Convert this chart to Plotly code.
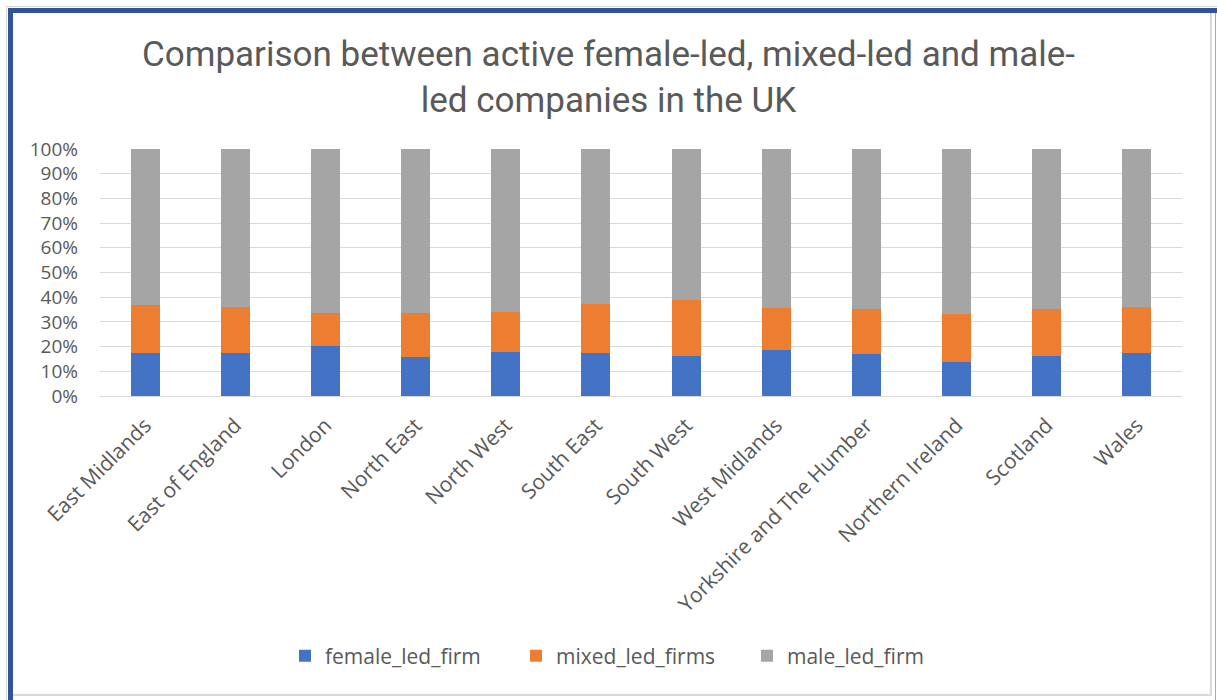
import plotly.graph_objects as go

# Regions and the share of active companies by leadership type (%)
regions = [
    "East Midlands", "East of England", "London", "North East", "North West",
    "South East", "South West", "West Midlands", "Yorkshire and The Humber",
    "Northern Ireland", "Scotland", "Wales",
]
female_led_firm = [17.3, 17.3, 20.2, 15.9, 17.8, 17.5, 16.3, 18.5, 17.0, 13.8, 16.2, 17.3]
mixed_led_firms = [19.7, 18.9, 13.3, 17.8, 16.1, 19.9, 22.7, 17.0, 18.3, 19.3, 18.9, 18.6]
male_led_firm = [63.0, 63.8, 66.5, 66.3, 66.1, 62.6, 61.0, 64.5, 64.7, 66.9, 64.9, 64.1]

y_ticks = list(range(0, 101, 10))
y_tick_labels = [f"{v}%" for v in y_ticks]

W, H = 1217, 700
L, R, T, B = 100, 35, 149, 304
TEXT = "#595959"
FONT = "Open Sans"
FS = 21

fig = go.Figure()
for name, vals, col in [
    ("female_led_firm", female_led_firm, "#4472C4"),
    ("mixed_led_firms", mixed_led_firms, "#ED7D31"),
    ("male_led_firm", male_led_firm, "#A5A5A5"),
]:
    fig.add_trace(go.Bar(name=name, x=regions, y=vals, marker=dict(color=col, line=dict(width=0))))

# frame around the chart, placed in pixel terms and converted to paper units
pw, ph = W - L - R, H - T - B
def px(x):
    return (x - L) / pw
def py(y):
    return (H - B - y) / ph

def frame(kind, x0, x1, y0, y1, **kw):
    return dict(type=kind, xref="paper", yref="paper",
                x0=px(x0), x1=px(x1), y0=py(y0), y1=py(y1), **kw)

shapes = [
    frame("line", 6.5, 6.5, 6, 700, line=dict(color="#D9D9D9", width=1)),
    frame("line", 6, 1217, 6.5, 6.5, line=dict(color="#D9D9D9", width=1)),
    frame("rect", 8, 13, 8, 700, fillcolor="#2F5597", line=dict(width=0)),
    frame("rect", 8, 1217, 8, 13, fillcolor="#2F5597", line=dict(width=0)),
    frame("line", 1211, 1211, 13, 696, line=dict(color="#D9D9D9", width=2)),
    frame("line", 13, 1212, 695, 695, line=dict(color="#D9D9D9", width=2)),
    frame("line", 1215.5, 1215.5, 13, 700, line=dict(color="#8FAADC", width=1)),
]

fig.update_layout(
    width=W, height=H,
    margin=dict(l=L, r=R, t=T, b=B),
    paper_bgcolor="white", plot_bgcolor="white",
    barmode="stack", barnorm="percent", bargap=0.68,
    font=dict(family=FONT, size=FS, color=TEXT),
    title=dict(
        text="Comparison between active female-led, mixed-led and male-<br>led companies in the UK",
        x=0.5, xref="container", xanchor="center", y=1 - 66 / H, yref="container", yanchor="middle",
        font=dict(family="Roboto", size=35, color=TEXT),
    ),
    xaxis=dict(
        tickangle=-45, showgrid=False, showline=False, ticks="", ticklabelstandoff=12,
        tickfont=dict(family=FONT, size=FS, color=TEXT),
    ),
    yaxis=dict(
        range=[0, 100], tickvals=y_ticks, ticktext=y_tick_labels,
        showgrid=True, gridcolor="#D9D9D9", gridwidth=1,
        zeroline=True, zerolinecolor="#D9D9D9", zerolinewidth=1,
        showline=False, ticks="", ticklabelstandoff=21,
        tickfont=dict(family=FONT, size=19, color=TEXT),
    ),
    legend=dict(
        orientation="h", x=px(285), xanchor="left", y=py(656), yanchor="middle",
        font=dict(family=FONT, size=FS, color=TEXT),
        entrywidth=186, entrywidthmode="pixels",
        bgcolor="rgba(0,0,0,0)", traceorder="normal",
    ),
    shapes=shapes,
)

fig.write_html("out.html")
